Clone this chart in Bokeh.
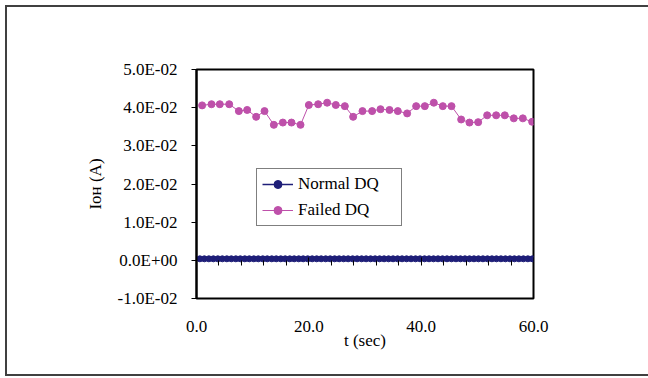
from bokeh.plotting import figure
from bokeh.models import (FixedTicker, LinearAxis, Legend, LegendItem,
                          CustomJSTickFormatter, Range1d, PrintfTickFormatter,
                          InlineStyleSheet)
from bokeh.embed import file_html
from bokeh.resources import INLINE

# ---------------- data ----------------
failed_t = [1.0, 2.67, 4.15, 5.82, 7.54, 9.02, 10.62, 12.11, 13.77, 15.37,
            16.91, 18.52, 20.0, 21.66, 23.26, 24.8, 26.41, 27.89, 29.55, 31.27,
            32.76, 34.36, 35.84, 37.5, 39.11, 40.65, 42.25, 43.85, 45.4, 47.12,
            48.6, 50.15, 51.75, 53.35, 54.89, 56.49, 58.1, 59.76]
failed_i = [0.0406, 0.0409, 0.0409, 0.0409, 0.0391, 0.0394, 0.0376, 0.0391, 0.0355, 0.0361,
            0.0361, 0.0355, 0.0407, 0.0409, 0.0413, 0.0407, 0.0404, 0.0376, 0.0391, 0.0391,
            0.0396, 0.0394, 0.0391, 0.0385, 0.0404, 0.0404, 0.0413, 0.0404, 0.0404, 0.0369,
            0.0361, 0.0362, 0.0380, 0.0380, 0.0380, 0.0372, 0.0372, 0.0363]

normal_t = [0.6, 1.4, 2.2, 3.0, 3.8, 4.6, 5.4, 6.2, 7.0, 7.8, 8.6, 9.4, 10.2, 11.0, 11.8,
            12.6, 13.4, 14.2, 15.0, 15.8, 16.6, 17.4, 18.2, 19.0, 19.8, 20.6, 21.4, 22.2,
            23.0, 23.8, 24.6, 25.4, 26.2, 27.0, 27.8, 28.6, 29.4, 30.2, 31.0, 31.8, 32.6,
            33.4, 34.2, 35.0, 35.8, 36.6, 37.4, 38.2, 39.0, 39.8, 40.6, 41.4, 42.2, 43.0,
            43.8, 44.6, 45.4, 46.2, 47.0, 47.8, 48.6, 49.4, 50.2, 51.0, 51.8, 52.6, 53.4,
            54.2, 55.0, 55.8, 56.6, 57.4, 58.2, 59.0, 59.8]
normal_i = [0.0004, 0.0004, 0.0004, 0.0004, 0.0004, 0.0004, 0.0004, 0.0004, 0.0004, 0.0004,
            0.0004, 0.0004, 0.0004, 0.0004, 0.0004, 0.0004, 0.0004, 0.0004, 0.0004, 0.0004,
            0.0004, 0.0004, 0.0004, 0.0004, 0.0004, 0.0004, 0.0004, 0.0004, 0.0004, 0.0004,
            0.0004, 0.0004, 0.0004, 0.0004, 0.0004, 0.0004, 0.0004, 0.0004, 0.0004, 0.0004,
            0.0004, 0.0004, 0.0004, 0.0004, 0.0004, 0.0004, 0.0004, 0.0004, 0.0004, 0.0004,
            0.0004, 0.0004, 0.0004, 0.0004, 0.0004, 0.0004, 0.0004, 0.0004, 0.0004, 0.0004,
            0.0004, 0.0004, 0.0004, 0.0004, 0.0004, 0.0004, 0.0004, 0.0004, 0.0004, 0.0004,
            0.0004, 0.0004, 0.0004, 0.0004, 0.0004]

y_ticks = [-0.01, 0.0, 0.01, 0.02, 0.03, 0.04, 0.05]
y_tick_labels = ["-1.0E-02", "0.0E+00", "1.0E-02", "2.0E-02", "3.0E-02", "4.0E-02", "5.0E-02"]
x_ticks = [0, 20, 40, 60]
x_minor_ticks = [4, 8, 12, 16, 24, 28, 32, 36, 44, 48, 52, 56]

FONT = "Liberation Serif"
FS = "17px"
NAVY = "#1E1E78"
PINK = "#BE50AA"

p = figure(frame_width=337, frame_height=229,
           min_border_left=191, min_border_right=115,
           min_border_top=64, min_border_bottom=78,
           x_range=Range1d(0, 60), y_range=Range1d(-0.01, 0.05),
           output_backend="svg", toolbar_location=None)
p.stylesheets = [InlineStyleSheet(css=(
    ":host { margin-left: 5px; margin-top: 5px; "
    "box-shadow: inset 2px 0 0 #404040, inset 0 2px 0 #404040, inset 0 -2px 0 #404040; }"))]

p.background_fill_color = "white"
p.border_fill_color = None
p.outline_line_color = "black"
p.outline_line_width = 2
p.xgrid.visible = False
p.ygrid.visible = False

# y axis
ya = p.yaxis[0]
ya.ticker = FixedTicker(ticks=y_ticks)
ya.major_label_overrides = {t: l for t, l in zip(y_ticks, y_tick_labels)}
ya.axis_line_color = "black"
ya.axis_line_width = 2
ya.major_tick_out = 5
ya.major_tick_in = 0
ya.major_tick_line_color = "black"
ya.minor_tick_line_color = None
ya.major_label_standoff = 14
ya.major_label_text_font = FONT
ya.major_label_text_font_size = FS
ya.major_label_text_color = "black"
ya.axis_label = "I\u1d0f\u029c (A)"
ya.axis_label_text_font = FONT
ya.axis_label_text_font_size = FS
ya.axis_label_text_font_style = "normal"
ya.axis_label_text_color = "black"
ya.axis_label_standoff = 10

# x axis (labels at bottom of box)
xa = p.xaxis[0]
xa.ticker = FixedTicker(ticks=x_ticks)
xa.formatter = PrintfTickFormatter(format="%.1f")
xa.axis_line_color = None
xa.major_tick_line_color = None
xa.minor_tick_line_color = None
xa.major_label_standoff = 16
xa.major_label_text_font = FONT
xa.major_label_text_font_size = FS
xa.major_label_text_color = "black"
xa.axis_label = "t (sec)"
xa.axis_label_text_font = FONT
xa.axis_label_text_font_size = FS
xa.axis_label_text_font_style = "normal"
xa.axis_label_text_color = "black"
xa.axis_label_standoff = -4

# tick marks on the zero line
xa0 = LinearAxis(fixed_location=0,
                 ticker=FixedTicker(ticks=x_ticks, minor_ticks=x_minor_ticks),
                 formatter=CustomJSTickFormatter(code="return ''"))
xa0.axis_line_color = None
xa0.major_tick_in = 3
xa0.major_tick_out = 5
xa0.minor_tick_in = 0
xa0.minor_tick_out = 5
xa0.major_tick_line_color = "black"
xa0.minor_tick_line_color = "black"
xa0.major_label_text_font_size = "0px"
xa0.major_label_standoff = 0
p.add_layout(xa0, "below")

# series
l1 = p.line(normal_t, normal_i, line_color=NAVY, line_width=1.5)
s1 = p.scatter(normal_t, normal_i, marker="circle", size=6,
               fill_color=NAVY, line_color=NAVY)
l2 = p.line(failed_t, failed_i, line_color=PINK, line_width=1)
s2 = p.scatter(failed_t, failed_i, marker="circle", size=7,
               fill_color=PINK, line_color=PINK)

legend = Legend(items=[LegendItem(label="Normal DQ", renderers=[l1, s1]),
                       LegendItem(label="Failed DQ", renderers=[l2, s2])],
                location=(60, 72))
legend.label_text_font = FONT
legend.label_text_font_size = FS
legend.label_text_color = "black"
legend.glyph_width = 31
legend.glyph_height = 20
legend.label_height = 20
legend.label_width = 98
legend.label_standoff = 5
legend.spacing = 6
legend.padding = 5
legend.margin = 0
legend.border_line_color = "black"
legend.border_line_width = 1
legend.background_fill_color = "white"
legend.background_fill_alpha = 1
p.add_layout(legend)

open("out.html", "w").write(file_html(p, INLINE))
